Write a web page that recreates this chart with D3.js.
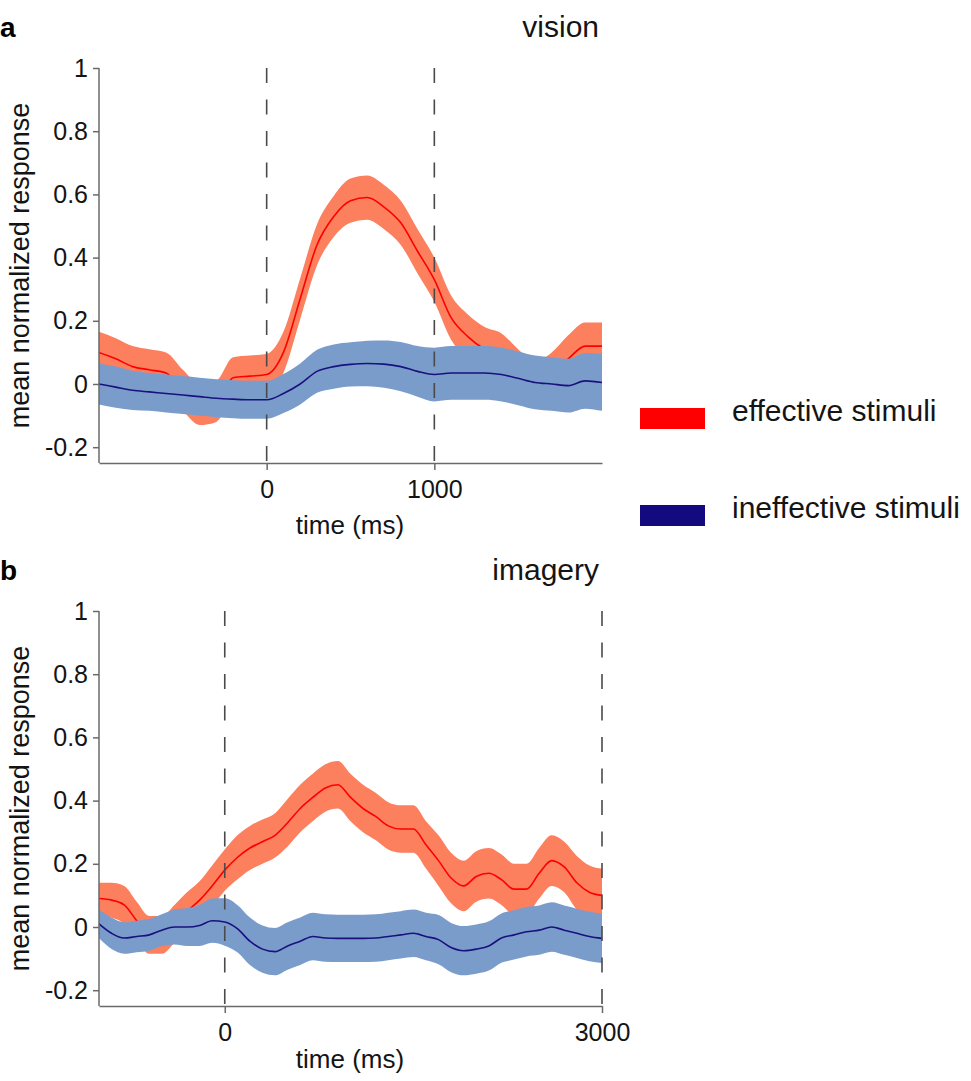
<!DOCTYPE html>
<html>
<head>
<meta charset="utf-8">
<script src="https://cdn.jsdelivr.net/npm/d3@7"></script>
<style>
html, body { margin: 0; padding: 0; background: #fff; }
svg { display: block; font-family: "Liberation Sans", Arial, sans-serif; }
</style>
</head>
<body>
<svg id="chart" width="971" height="1081"></svg>
<script>
// ---------- DATA ----------
const seriesNames = ["effective stimuli", "ineffective stimuli"];
const yTicks = [1, 0.8, 0.6, 0.4, 0.2, 0, -0.2];
const yTickLabels = ["1", "0.8", "0.6", "0.4", "0.2", "0", "-0.2"];

// Panel a: vision
const visionTitle = "vision";
const visionTime = [-1000,-900,-800,-700,-600,-500,-400,-300,-200,-100,0,100,200,300,400,500,600,700,800,900,1000,1100,1200,1300,1400,1500,1600,1700,1800,1900,2000];
const visionEffMean = [0.10,0.08,0.055,0.045,0.035,-0.02,-0.065,-0.055,0.02,0.025,0.03,0.10,0.27,0.44,0.53,0.58,0.59,0.56,0.51,0.42,0.33,0.21,0.15,0.11,0.09,0.04,0.00,0.03,0.08,0.12,0.12];
const visionEffSem  = [0.065,0.065,0.065,0.065,0.065,0.065,0.065,0.065,0.065,0.065,0.065,0.065,0.065,0.065,0.065,0.07,0.07,0.07,0.07,0.07,0.07,0.07,0.07,0.07,0.07,0.07,0.07,0.07,0.075,0.075,0.075];
const visionIneMean = [0.00,-0.01,-0.02,-0.025,-0.03,-0.035,-0.04,-0.045,-0.048,-0.05,-0.05,-0.03,0.00,0.04,0.055,0.062,0.065,0.063,0.055,0.04,0.03,0.035,0.035,0.035,0.03,0.018,0.005,0.00,-0.005,0.01,0.005];
const visionIneSem  = [0.065,0.065,0.062,0.06,0.06,0.06,0.06,0.06,0.06,0.06,0.06,0.062,0.065,0.068,0.07,0.07,0.072,0.075,0.078,0.08,0.085,0.085,0.085,0.085,0.085,0.085,0.085,0.085,0.085,0.088,0.09];
const visionXTicks = [0, 1000];
const visionMarkers = [0, 1000];

// Panel b: imagery
const imageryTitle = "imagery";
const imageryTime = [-1000,-900,-800,-700,-600,-500,-400,-300,-200,-100,0,100,200,300,400,500,600,700,800,900,1000,1100,1200,1300,1400,1500,1600,1700,1800,1900,2000,2100,2200,2300,2400,2500,2600,2700,2800,2900,3000];
const imageryEffMean = [0.09,0.085,0.07,0.02,-0.025,-0.025,0.01,0.05,0.085,0.13,0.18,0.22,0.25,0.27,0.29,0.33,0.375,0.41,0.44,0.45,0.41,0.375,0.35,0.32,0.31,0.31,0.26,0.21,0.155,0.13,0.16,0.17,0.15,0.12,0.12,0.17,0.21,0.19,0.14,0.11,0.10];
const imageryEffSem  = [0.05,0.055,0.06,0.06,0.06,0.06,0.06,0.06,0.06,0.065,0.065,0.07,0.07,0.07,0.07,0.075,0.075,0.075,0.075,0.075,0.075,0.075,0.075,0.075,0.075,0.075,0.075,0.08,0.08,0.08,0.08,0.08,0.08,0.08,0.08,0.08,0.08,0.08,0.085,0.085,0.085];
const imageryIneMean = [0.01,-0.02,-0.035,-0.03,-0.025,-0.01,0.00,0.00,0.005,0.02,0.016,-0.005,-0.045,-0.07,-0.078,-0.06,-0.045,-0.03,-0.035,-0.036,-0.036,-0.036,-0.035,-0.03,-0.025,-0.02,-0.03,-0.04,-0.065,-0.075,-0.07,-0.06,-0.035,-0.025,-0.015,-0.01,0.00,-0.01,-0.02,-0.03,-0.036];
const imageryIneSem  = [0.045,0.05,0.05,0.05,0.05,0.05,0.055,0.06,0.065,0.07,0.075,0.075,0.075,0.075,0.075,0.075,0.075,0.075,0.075,0.075,0.075,0.075,0.075,0.075,0.075,0.075,0.075,0.078,0.078,0.078,0.078,0.078,0.078,0.078,0.078,0.078,0.078,0.078,0.078,0.078,0.078];
const imageryXTicks = [0, 3000];
const imageryMarkers = [0, 3000];

// ---------- STYLE ----------
const effBand = "#fc7f5e", effLine = "#ff0000";
const ineBand = "#7a9cca", ineLine = "#1a117f";
const legendColors = ["#ff0000", "#140a80"];
const axisColor = "#6a6a6a";
const textColor = "#141414";

const svg = d3.select("#chart");

function panel(cfg) {
  const x = d3.scaleLinear().domain(cfg.xDomain).range([99, 602]);
  const y = d3.scaleLinear().domain([1, -0.25]).range([cfg.top, cfg.top + 395]);
  const g = svg.append("g");

  const mk = (t, m, s) => t.map((d, i) => ({t: d, m: m[i], s: s[i]}));
  const eff = mk(cfg.time, cfg.effMean, cfg.effSem);
  const ine = mk(cfg.time, cfg.ineMean, cfg.ineSem);

  const area = d3.area().x(d => x(d.t)).y0(d => y(d.m - d.s)).y1(d => y(d.m + d.s)).curve(d3.curveMonotoneX);
  const line = d3.line().x(d => x(d.t)).y(d => y(d.m)).curve(d3.curveMonotoneX);

  g.append("path").datum(eff).attr("d", area).attr("fill", effBand);
  g.append("path").datum(eff).attr("d", line).attr("fill", "none").attr("stroke", effLine).attr("stroke-width", 1.6);
  g.append("path").datum(ine).attr("d", area).attr("fill", ineBand);
  g.append("path").datum(ine).attr("d", line).attr("fill", "none").attr("stroke", ineLine).attr("stroke-width", 1.6);

  // y axis
  const yAxis = d3.axisLeft(y).tickValues(yTicks).tickFormat((d, i) => yTickLabels[i]).tickSize(6).tickSizeOuter(0).tickPadding(5);
  const ya = g.append("g").attr("transform", "translate(99,0)").call(yAxis);
  ya.select(".domain").attr("d", `M0,${y(1)}V${y(-0.25)}`);
  ya.selectAll("path,line").attr("stroke", axisColor).attr("stroke-width", 1.5);
  ya.selectAll("text").attr("font-size", 25).attr("fill", textColor);

  // x axis
  const xAxis = d3.axisBottom(x).tickValues(cfg.xTicks).tickFormat(d3.format("d")).tickSize(7).tickSizeOuter(0).tickPadding(10);
  const xa = g.append("g").attr("transform", `translate(0,${y(-0.25)})`).call(xAxis);
  xa.selectAll("path,line").attr("stroke", axisColor).attr("stroke-width", 1.5);
  xa.selectAll("text").attr("font-size", 25).attr("fill", textColor);

  // dashed event markers
  g.selectAll(".marker").data(cfg.markers).enter().append("line")
    .attr("x1", d => x(d)).attr("x2", d => x(d))
    .attr("y1", y(1)).attr("y2", y(-0.25) + 7)
    .attr("stroke", "#4a4a4a").attr("stroke-width", 1.6).attr("stroke-dasharray", "15,16.5");

  // labels
  g.append("text").attr("x", 350).attr("y", y(-0.25) + cfg.xLabelOffset).attr("text-anchor", "middle")
    .attr("font-size", 26).attr("fill", textColor).text("time (ms)");
  g.append("text").attr("transform", `translate(29,${(y(1) + y(-0.25)) / 2}) rotate(-90)`)
    .attr("text-anchor", "middle").attr("font-size", 27).attr("fill", textColor).text("mean normalized response");
  g.append("text").attr("x", 599).attr("y", cfg.top - 31).attr("text-anchor", "end")
    .attr("font-size", 30).attr("fill", textColor).text(cfg.title);
  g.append("text").attr("x", 0).attr("y", cfg.top - 31).attr("font-size", 28).attr("font-weight", "bold")
    .attr("fill", "#000").text(cfg.letter);
}

panel({top: 68, xDomain: [-1000, 2000], time: visionTime, effMean: visionEffMean, effSem: visionEffSem,
  ineMean: visionIneMean, ineSem: visionIneSem, xTicks: visionXTicks, markers: visionMarkers, title: visionTitle, letter: "a", xLabelOffset: 71});
panel({top: 611, xDomain: [-1000, 3000], time: imageryTime, effMean: imageryEffMean, effSem: imageryEffSem,
  ineMean: imageryIneMean, ineSem: imageryIneSem, xTicks: imageryXTicks, markers: imageryMarkers, title: imageryTitle, letter: "b", xLabelOffset: 62});

// legend
const leg = svg.append("g");
const legY = [408, 505];
leg.selectAll("rect").data(seriesNames).enter().append("rect")
  .attr("x", 640).attr("y", (d, i) => legY[i]).attr("width", 65).attr("height", 21)
  .attr("fill", (d, i) => legendColors[i]);
leg.selectAll("text").data(seriesNames).enter().append("text")
  .attr("x", 732).attr("y", (d, i) => legY[i] + 13)
  .attr("font-size", 30).attr("fill", textColor).text(d => d);
</script>
</body>
</html>
